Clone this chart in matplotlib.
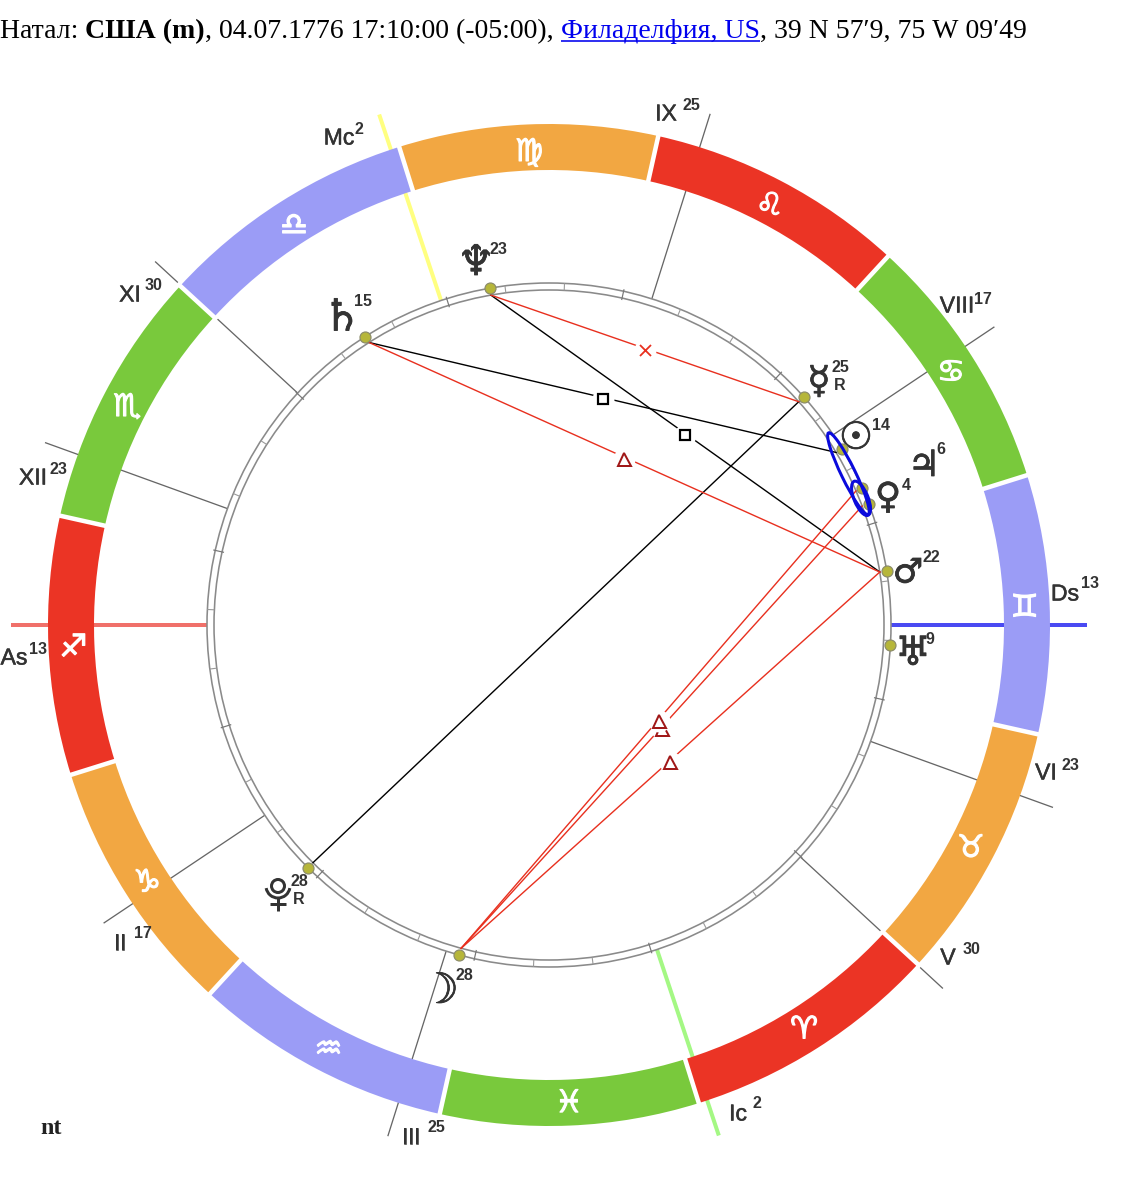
import numpy as np
import matplotlib
matplotlib.use('Agg')
import matplotlib.pyplot as plt
import matplotlib.patheffects as pe
from matplotlib.patches import Wedge, Circle, Ellipse, Arc

W, H = 1144, 1200
CX, CY = 549, H - 625
ASC = 252.6
R_PLANET, R_RING_IN = 342, 335
R_ZOD_OUT, R_ZOD_IN = 501, 455
R_CUSP = 536

# zodiac, starts at 0 Aries and runs by 30 degrees
sign_glyphs = ['♈', '♉', '♊', '♋', '♌', '♍', '♎', '♏', '♐', '♑', '♒', '♓']
sign_colors = ['#EB3425', '#F2A742', '#9B9CF6', '#79C93C'] * 3

# house cusps, ecliptic longitude
cusp_names = ['As', 'II', 'III', 'Ic', 'V', 'VI', 'Ds', 'VIII', 'IX', 'Mc', 'XI', 'XII']
cusp_lons = [252.6, 286.4, 325.1, 1.0, 29.9, 52.7, 72.6, 106.4, 145.1, 181.0, 209.9, 232.7]
cusp_degs = ['13', '17', '25', '2', '30', '23', '13', '17', '25', '2', '30', '23']
axis_colors = {'As': '#F0706A', 'Ds': '#4A4AF2', 'Mc': '#FFFF80', 'Ic': '#A4F884'}

# planets
planet_names = ['sun', 'moon', 'mercury', 'venus', 'mars', 'jupiter', 'saturn', 'uranus', 'neptune', 'pluto']
planet_glyphs = ['☉', '☽', '☿', '♀', '♂', '♃', '♄', '♅', '♆', '']
planet_lons = [103.6, 327.4, 114.4, 93.4, 81.7, 96.2, 195.1, 69.2, 172.6, 297.8]
planet_degs = ['14', '28', '25', '4', '22', '6', '15', '9', '23', '28']
planet_retro = [False, False, True, False, False, False, False, False, False, True]

# aspects
aspect_a = ['neptune', 'saturn', 'mercury', 'neptune', 'saturn', 'moon', 'moon', 'mars']
aspect_b = ['mars', 'sun', 'pluto', 'mercury', 'mars', 'venus', 'jupiter', 'moon']
aspect_kind = ['square', 'square', 'opposition', 'quincunx', 'trine', 'trine', 'trine', 'trine']

# text placement in picture pixels (x, y from top)
label_pos = {'As': (14, 658), 'II': (120, 943), 'III': (411, 1137), 'Ic': (738, 1114),
             'V': (948, 958), 'VI': (1046, 773), 'Ds': (1065, 594), 'VIII': (957, 306),
             'IX': (666, 114), 'Mc': (339, 138), 'XI': (130, 295), 'XII': (33, 478)}
label_sup = {'As': (38, 649), 'II': (143, 934), 'III': (436, 1127), 'Ic': (757, 1104),
             'V': (972, 949), 'VI': (1070, 765), 'Ds': (1090, 584), 'VIII': (983, 299),
             'IX': (691, 105), 'Mc': (359, 130), 'XI': (154, 285), 'XII': (58, 469)}
glyph_pos = {'sun': (856, 439), 'moon': (440, 991), 'mercury': (819, 383), 'venus': (888, 498),
             'mars': (908, 573), 'jupiter': (924, 466), 'saturn': (342, 318), 'uranus': (913, 654),
             'neptune': (476, 263)}
glyph_size = {'sun': 38, 'moon': 42, 'mercury': 38, 'venus': 36, 'mars': 34, 'jupiter': 36,
              'saturn': 44, 'uranus': 40, 'neptune': 42}
glyph_sup = {'sun': (881, 425), 'moon': (464, 976), 'mercury': (840, 368), 'venus': (906, 485),
             'mars': (931, 558), 'jupiter': (941, 450), 'saturn': (363, 302), 'uranus': (930, 639),
             'neptune': (498, 250), 'pluto': (299, 881)}
retro_pos = {'mercury': (840, 386), 'pluto': (299, 899)}

SANS = ['Liberation Sans', 'DejaVu Sans']
SERIF = ['Liberation Serif', 'DejaVu Serif']
INK = '#333333'


def pt(px):
    return px * 0.72


def polar(lon, r):
    a = np.radians(lon - ASC + 180)
    return CX + r * np.cos(a), CY + r * np.sin(a)


def radial(ax, lon, r1, r2, **kw):
    x1, y1 = polar(lon, r1)
    x2, y2 = polar(lon, r2)
    ax.plot([x1, x2], [y1, y2], solid_capstyle='butt', **kw)


fig = plt.figure(figsize=(W / 100, H / 100), dpi=100)
ax = fig.add_axes([0, 0, 1, 1])
ax.set_xlim(0, W)
ax.set_ylim(0, H)
ax.axis('off')

# cusp lines run under the zodiac band
for name, lon in zip(cusp_names, cusp_lons):
    if name in axis_colors:
        radial(ax, lon, R_PLANET, R_CUSP + 2, color=axis_colors[name], lw=pt(4), zorder=1)
    else:
        radial(ax, lon, R_PLANET, R_CUSP, color='#666666', lw=pt(1.3), zorder=1)

for i in range(12):
    t1 = i * 30 - ASC + 180
    ax.add_patch(Wedge((CX, CY), R_ZOD_OUT, t1, t1 + 30, width=R_ZOD_OUT - R_ZOD_IN,
                       fc=sign_colors[i], ec='none', zorder=2))
    radial(ax, i * 30, R_ZOD_IN - 4, R_ZOD_OUT + 4, color='white', lw=pt(4.5), zorder=3)
    gx, gy = polar(i * 30 + 15, 476)
    t = ax.text(gx, gy - 3, sign_glyphs[i], color='white', fontsize=pt(31), ha='center', va='center',
                family='DejaVu Sans', zorder=4)
    t.set_path_effects([pe.withStroke(linewidth=pt(1.2), foreground='white')])

# double ring with degree marks
for r in (R_PLANET, R_RING_IN):
    ax.add_patch(Circle((CX, CY), r, fc='none', ec='#8A8A8A', lw=pt(1.6), zorder=4))
for lon in range(0, 360, 10):
    if lon % 30 == 0:
        radial(ax, lon, R_RING_IN - 2, R_PLANET + 2, color='#777777', lw=pt(1.2), zorder=4)
    else:
        radial(ax, lon, R_RING_IN, R_PLANET, color='#9A9A9A', lw=pt(1.1), zorder=4)

pos = {n: polar(l, R_PLANET) for n, l in zip(planet_names, planet_lons)}
ends = {n: polar(l, R_RING_IN) for n, l in zip(planet_names, planet_lons)}

# aspect lines stop at the inner ring, symbols on top with a white gap under each
for a, b, kind in zip(aspect_a, aspect_b, aspect_kind):
    col = 'black' if kind in ('square', 'opposition') else '#E8301F'
    ax.plot([ends[a][0], ends[b][0]], [ends[a][1], ends[b][1]], color=col, lw=pt(1.4), zorder=5)
for i, (a, b, kind) in enumerate(zip(aspect_a, aspect_b, aspect_kind)):
    if kind == 'opposition':
        continue
    mx = (ends[a][0] + ends[b][0]) / 2
    my = (ends[a][1] + ends[b][1]) / 2 - 1.5
    z = 6 + i * 0.1
    ax.plot(mx, my, 'o', color='white', ms=pt(22), mew=0, zorder=z)
    if kind == 'square':
        ax.plot(mx, my, 's', mfc='white', mec='black', ms=pt(10), mew=pt(2.2), zorder=z + 0.01)
    elif kind == 'trine':
        ax.plot(mx, my, '^', mfc='white', mec='#A01818', ms=pt(13), mew=pt(2), zorder=z + 0.01)
    else:
        ax.plot(mx, my, 'x', color='#E8301F', ms=pt(11), mew=pt(1.8), zorder=z + 0.01)

# conjunction ellipses
for a, b, pad, off in (('sun', 'venus', 30, (-7, 2.5)), ('jupiter', 'venus', 20, (-4.5, -2.5))):
    dx, dy = pos[b][0] - pos[a][0], pos[b][1] - pos[a][1]
    centre = ((pos[a][0] + pos[b][0]) / 2 + off[0], (pos[a][1] + pos[b][1]) / 2 + off[1])
    ax.add_patch(Ellipse(centre, np.hypot(dx, dy) + pad, 14, angle=np.degrees(np.arctan2(dy, dx)),
                         fc='none', ec='#0A0ADC', lw=pt(3), zorder=8))

xs, ys = zip(*pos.values())
ax.plot(xs, ys, 'o', mfc='#B6B63A', mec='#8C8C6A', ms=pt(11), mew=pt(1.2), zorder=7)

# planet glyphs
for name, glyph, deg, retro in zip(planet_names, planet_glyphs, planet_degs, planet_retro):
    if glyph:
        gx, gy = glyph_pos[name]
        t = ax.text(gx, H - gy, glyph, color=INK, fontsize=pt(glyph_size[name]), ha='center', va='center',
                    family='DejaVu Sans')
        t.set_path_effects([pe.withStroke(linewidth=pt(0.8), foreground=INK)])
    sx, sy = glyph_sup[name]
    ax.text(sx, H - sy, deg, color=INK, fontsize=pt(16), ha='center', va='center', family=SANS, weight='bold')
    if retro:
        rx, ry = retro_pos[name]
        ax.text(rx, H - ry, 'R', color=INK, fontsize=pt(16), ha='center', va='center', family=SANS, weight='bold')

# Pluto sign with the crescent, the fonts here only have the PL monogram
ax.add_patch(Circle((278, H - 886), 6.5, fc='none', ec=INK, lw=pt(3)))
ax.add_patch(Arc((278, H - 886), 24, 24, theta1=190, theta2=350, ec=INK, lw=pt(3)))
ax.plot([278, 278], [H - 898, H - 911], color=INK, lw=pt(3), solid_capstyle='butt')
ax.plot([270, 286], [H - 904, H - 904], color=INK, lw=pt(3), solid_capstyle='butt')

# house labels
for name, deg in zip(cusp_names, cusp_degs):
    lx, ly = label_pos[name]
    t = ax.text(lx, H - ly, name, color=INK, fontsize=pt(23), ha='center', va='center', family=SANS)
    t.set_path_effects([pe.withStroke(linewidth=pt(0.5), foreground=INK)])
    sx, sy = label_sup[name]
    ax.text(sx, H - sy, deg, color=INK, fontsize=pt(16), ha='center', va='center', family=SANS, weight='bold')

# header line, one run after the other
runs = [('Натал: ', 'normal', 'black'), ('США (m)', 'bold', 'black'),
        (', 04.07.1776 17:10:00 (-05:00), ', 'normal', 'black'),
        ('Филаделфия, US', 'normal', '#0000EE'), (", 39 N 57′9, 75 W 09′49", 'normal', 'black')]
fig.canvas.draw()
renderer = fig.canvas.get_renderer()
x = 0
for txt, weight, col in runs:
    t = ax.text(x, H - 38, txt.replace(' ', '\u00a0'), color=col, fontsize=pt(27.8), weight=weight,
                family=SERIF, ha='left', va='baseline')
    w = t.get_window_extent(renderer).width
    if col != 'black':
        ax.plot([x, x + w], [H - 41, H - 41], color=col, lw=pt(1.6), solid_capstyle='butt')
    x += w

ax.text(40, H - 1128, 'nt', color='#222222', fontsize=pt(24), weight='bold',
        family=SERIF, ha='left', va='center')

fig.savefig('out.png', dpi=100)
